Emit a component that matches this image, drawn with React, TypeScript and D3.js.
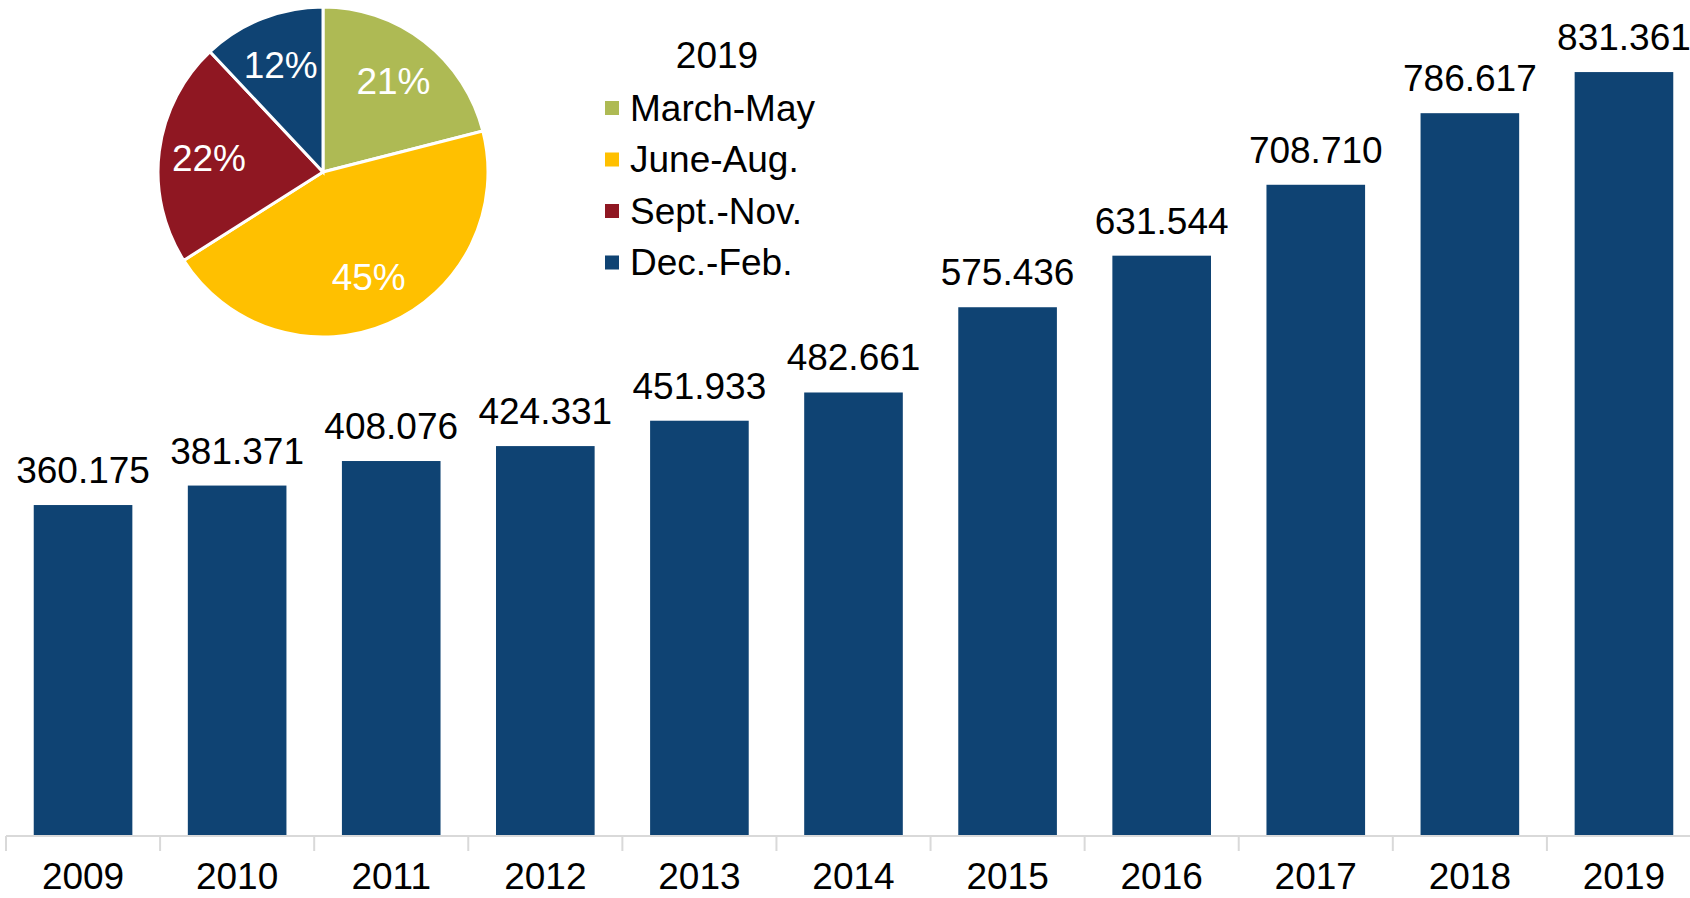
import { useMemo } from "react";
import * as d3 from "d3";

const WIDTH = 1690;
const HEIGHT = 898;
const FONT = "'Liberation Sans', Arial, sans-serif";
const FONT_SIZE = 37;

// Bar data: yearly totals
const years = ["2009", "2010", "2011", "2012", "2013", "2014", "2015", "2016", "2017", "2018", "2019"];
const totals = [360.175, 381.371, 408.076, 424.331, 451.933, 482.661, 575.436, 631.544, 708.71, 786.617, 831.361];

// Pie data: seasonal split for 2019
const pieTitle = "2019";
const seasons = ["March-May", "June-Aug.", "Sept.-Nov.", "Dec.-Feb."];
const seasonShares = [21, 45, 22, 12];
const seasonColors = ["#AEBA54", "#FFC000", "#8F1722", "#0F4373"];

const BAR_COLOR = "#0F4373";
const AXIS_COLOR = "#D9D9D9";

export default function App() {
  // ── scales ──────────────────────────────────────────────────────────
  const x = useMemo(
    () =>
      d3
        .scaleBand<string>()
        .domain(years)
        .range([6, 1701])
        .paddingInner(0.36)
        .paddingOuter(0.18),
    []
  );
  const y = useMemo(() => d3.scaleLinear().domain([0, 900]).range([836, 9]), []);

  const pieSlices = useMemo(
    () => d3.pie<number>().sort(null).startAngle(0).endAngle(2 * Math.PI)(seasonShares),
    []
  );
  const arc = d3.arc<d3.PieArcDatum<number>>().innerRadius(0).outerRadius(165);
  const labelArc = d3.arc<d3.PieArcDatum<number>>().innerRadius(115).outerRadius(115);

  const step = x.step();
  const tickXs = d3.range(years.length + 1).map((i) => x.range()[0] + i * step);
  const baseY = y(0);

  return (
    <svg
      width={WIDTH}
      height={HEIGHT}
      style={{ position: "absolute", left: 0, top: 0, background: "#fff" }}
      fontFamily={FONT}
    >
      {/* Bars + value labels */}
      <g>
        {years.map((yr, i) => (
          <g key={yr}>
            <rect
              x={x(yr)}
              y={y(totals[i])}
              width={x.bandwidth()}
              height={baseY - y(totals[i])}
              fill={BAR_COLOR}
            />
            <text
              x={(x(yr) ?? 0) + x.bandwidth() / 2}
              y={y(totals[i]) - 22}
              textAnchor="middle"
              fontSize={FONT_SIZE}
              fill="#000"
            >
              {d3.format(".3f")(totals[i])}
            </text>
          </g>
        ))}
      </g>

      {/* X axis: baseline, boundary ticks, year labels */}
      <g>
        <line x1={x.range()[0]} x2={x.range()[1]} y1={baseY} y2={baseY} stroke={AXIS_COLOR} strokeWidth={2} />
        {tickXs.map((tx, i) => (
          <line key={i} x1={tx} x2={tx} y1={baseY} y2={baseY + 15} stroke={AXIS_COLOR} strokeWidth={2} />
        ))}
        {years.map((yr) => (
          <text
            key={yr}
            x={(x(yr) ?? 0) + x.bandwidth() / 2}
            y={889}
            textAnchor="middle"
            fontSize={FONT_SIZE}
            fill="#000"
          >
            {yr}
          </text>
        ))}
      </g>

      {/* Inset pie */}
      <g transform="translate(323,172)">
        {pieSlices.map((s, i) => (
          <path key={seasons[i]} d={arc(s) ?? ""} fill={seasonColors[i]} stroke="#fff" strokeWidth={3} />
        ))}
        {pieSlices.map((s, i) => {
          const [cx, cy] = labelArc.centroid(s);
          return (
            <text
              key={seasons[i]}
              x={cx}
              y={cy}
              dy="0.35em"
              textAnchor="middle"
              fontSize={FONT_SIZE}
              fill="#fff"
            >
              {`${seasonShares[i]}%`}
            </text>
          );
        })}
      </g>

      {/* Pie legend */}
      <g>
        <text x={717} y={68} textAnchor="middle" fontSize={FONT_SIZE} fill="#000">
          {pieTitle}
        </text>
        {seasons.map((name, i) => {
          const cy = 108 + i * 51.5;
          return (
            <g key={name}>
              <rect x={605} y={cy - 7} width={14} height={14} fill={seasonColors[i]} />
              <text x={630} y={cy} dy="0.35em" fontSize={FONT_SIZE} fill="#000">
                {name}
              </text>
            </g>
          );
        })}
      </g>
    </svg>
  );
}
